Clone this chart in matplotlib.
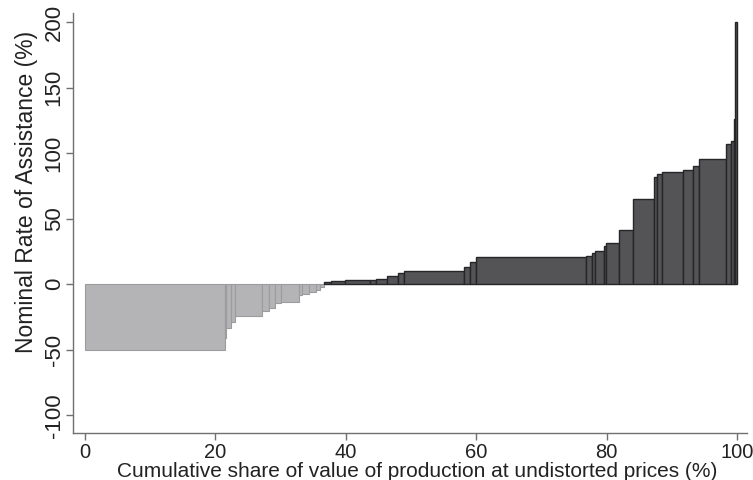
import numpy as np
import matplotlib.pyplot as plt

plt.rcParams['font.family'] = ['Liberation Sans', 'DejaVu Sans']

# share of value of production (%) and nominal rate of assistance (%), sorted by NRA
share = [21.44, 0.26, 0.66, 0.74, 4.1, 1.0, 1.0, 0.8, 2.8, 0.5, 1.05, 1.05, 0.7, 0.55,
         1.05, 2.2, 3.8, 0.9, 1.65, 1.75, 0.9, 9.3, 0.8, 0.9, 17.0, 0.8, 0.55, 1.35,
         0.3, 2.0, 2.2, 3.2, 0.4, 0.7, 3.3, 1.6, 0.9, 4.1, 0.8, 0.35, 0.2, 0.35]
nra = [-50.5, -41.0, -33.5, -29.0, -24.2, -20.7, -18.2, -14.4, -13.6, -8.6, -7.3, -5.6, -4.3, -2.3,
       2.0, 2.5, 3.0, 3.5, 4.3, 6.6, 8.6, 10.1, 13.4, 16.9, 21.0, 21.7, 24.0, 25.0,
       29.0, 31.6, 41.2, 64.9, 81.6, 84.1, 85.8, 87.1, 90.4, 95.2, 106.8, 109.0, 126.0, 200.0]

xticks = [0, 20, 40, 60, 80, 100]
yticks = [-100, -50, 0, 50, 100, 150, 200]

share = np.array(share)
nra = np.array(nra)
share = share / share.sum() * 100
left = np.concatenate([[0], np.cumsum(share)[:-1]])

neg = nra < 0
pos = ~neg

fig = plt.figure(figsize=(7.53, 4.8), dpi=100)
ax = fig.add_axes([0.097, 0.098, 0.895, 0.875])

ax.bar(left[neg], nra[neg], width=share[neg], align='edge',
       color='#b4b4b7', edgecolor='#9c9c9f', linewidth=0.8)
ax.bar(left[pos], nra[pos], width=share[pos], align='edge',
       color='#545457', edgecolor='#262628', linewidth=1.0)

ax.set_xlim(-1.8, 101.5)
ax.set_ylim(-113.5, 207)
ax.set_xticks(xticks)
ax.set_yticks(yticks)
ax.set_yticklabels([str(t) for t in yticks], rotation=90, va='center', fontsize=16)

for side in ['top', 'right']:
    ax.spines[side].set_visible(False)
for side in ['left', 'bottom']:
    ax.spines[side].set_color('#707070')
    ax.spines[side].set_linewidth(1.0)

ax.tick_params(axis='both', colors='#707070', length=5, width=1.0,
               labelcolor='#222222')
ax.tick_params(axis='x', labelsize=14.5, pad=2)
ax.tick_params(axis='y', pad=1)

ax.set_xlabel('Cumulative share of value of production at undistorted prices (%)',
              fontsize=15, color='#222222', labelpad=0, x=0.51)
ax.set_ylabel('Nominal Rate of Assistance (%)', fontsize=16.5, color='#222222',
              labelpad=4, y=0.575)

fig.savefig('out.png', dpi=100)
